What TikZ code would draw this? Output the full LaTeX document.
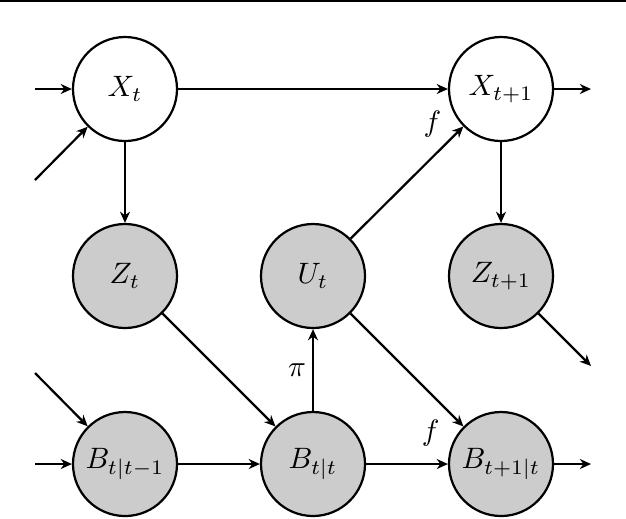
\documentclass[tikz,border=0pt]{standalone}
\usetikzlibrary{arrows.meta}
\begin{document}
\begin{tikzpicture}[x=0.339pt,y=-0.339pt,
  var/.style={circle,draw,line width=0.75pt,minimum size=104*0.339pt,inner sep=0pt},
  obs/.style={var,fill=black!20},
  arr/.style={line width=0.75pt,-{Stealth[length=3.8pt,width=3.4pt]}},
  lab/.style={inner sep=0pt}]
\useasboundingbox (0,0) rectangle (626,518);
\fill[black] (0,0) rectangle (626,2);
% nodes
\node[var] (X) at (125,89) {$X_t$};
\node[var] (X1) at (501,89) {$X_{t+1}$};
\node[obs] (Z) at (125,276) {$Z_t$};
\node[obs] (U) at (313,276) {$U_t$};
\node[obs] (Z1) at (501,276) {$Z_{t+1}$};
\node[obs] (B0) at (125,464) {$B_{t|t-1}$};
\node[obs] (B) at (313,464) {$B_{t|t}$};
\node[obs] (B1) at (501,464) {$B_{t+1|t}$};
% free ends
\coordinate (inX) at (35,89);
\coordinate (inXd) at (35,180);
\coordinate (outX) at (591,89);
\coordinate (outZ) at (591,366);
\coordinate (inBd) at (35,373);
\coordinate (inB) at (35,464);
\coordinate (outB) at (591,464);
% connectors
\draw[arr] (inX) -- (X);
\draw[arr] (inXd) -- (X);
\draw[arr] (X) -- (X1);
\draw[arr] (X1) -- (outX);
\draw[arr] (X) -- (Z);
\draw[arr] (X1) -- (Z1);
\draw[arr] (U) -- (X1) node[lab,pos=0.8,shift={(-8.5,-24.5)}] {$f$};
\draw[arr] (Z) -- (B);
\draw[arr] (Z1) -- (outZ);
\draw[arr] (inBd) -- (B0);
\draw[arr] (inB) -- (B0);
\draw[arr] (B0) -- (B);
\draw[arr] (B) -- (U) node[lab,pos=0.5,shift={(-16,0)}] {$\pi$};
\draw[arr] (U) -- (B1);
\draw[arr] (B) -- (B1) node[lab,pos=0.79,shift={(0,-31)}] {$f$};
\draw[arr] (B1) -- (outB);
\end{tikzpicture}
\end{document}
